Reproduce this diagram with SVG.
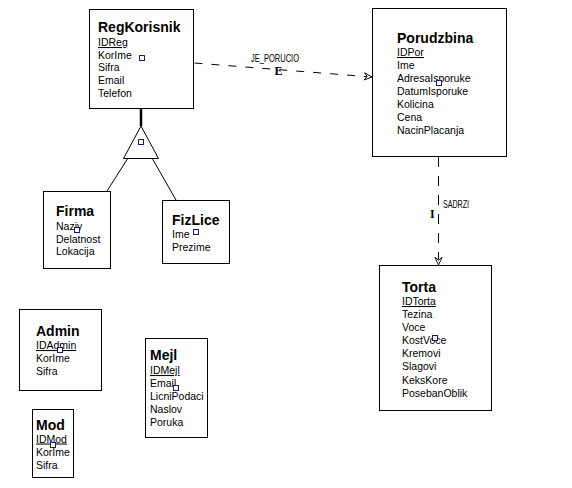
<svg xmlns="http://www.w3.org/2000/svg" width="572" height="488" viewBox="0 0 572 488">
<defs>
<style>
.box{fill:#fff;stroke:#000;stroke-width:1}
.t{font-family:"Liberation Sans",Arial,sans-serif;font-size:14px;font-weight:bold;fill:#000}
.a{font-family:"Liberation Sans",Arial,sans-serif;font-size:10.5px;fill:#000}
.u{text-decoration:underline}
.sq{fill:#fff;stroke:#1a1a70;stroke-width:1}
.dash{fill:none;stroke:#000;stroke-width:1}
.lbl{font-family:"Liberation Sans",Arial,sans-serif;font-size:10.5px;fill:#000}
.sym{font-family:"Liberation Serif","Times New Roman",serif;font-size:12px;font-weight:bold;fill:#000}
.ln{fill:none;stroke:#000;stroke-width:1}
</style>
<marker id="open" viewBox="0 0 10 10" refX="9.5" refY="5" markerWidth="9" markerHeight="9" markerUnits="userSpaceOnUse" orient="auto">
<path d="M1,1 L9.5,5 L1,9 L4,5 Z" fill="#fff" stroke="#000" stroke-width="1"/>
</marker>
</defs>
<rect width="572" height="488" fill="#fff"/>

<g id="connectors">
<path class="dash" d="M194.5,63 L372,77" stroke-dasharray="8 9" marker-end="url(#open)"/>
<text class="lbl" x="251" y="62" textLength="48" lengthAdjust="spacingAndGlyphs">JE_PORUCIO</text>
<text class="sym" x="274.5" y="74.5">E</text>
<path class="dash" d="M438.5,157 L438.5,265" stroke-dasharray="10 9" marker-end="url(#open)"/>
<text class="sym" x="430" y="217.5">I</text>
<text class="lbl" x="443" y="208" textLength="26" lengthAdjust="spacingAndGlyphs">SADRZI</text>
<path d="M141,109 L141,126" stroke="#000" stroke-width="2.5" fill="none"/>
<path class="ln" d="M128,158 L107,191"/>
<path class="ln" d="M152,158 L176,200"/>
</g>

<g id="isa">
<path d="M141,126 L123.5,158.5 L158.5,158.5 Z" fill="#fff" stroke="#000" stroke-width="1"/>
<rect class="sq" x="138.5" y="139.5" width="5" height="5"/>
</g>

<g id="RegKorisnik">
<rect class="box" x="89.5" y="9.5" width="104" height="99"/>
<text class="t" x="98" y="32">RegKorisnik</text>
<text class="a u" x="98" y="46">IDReg</text>
<text class="a" x="98" y="58.7">KorIme</text>
<text class="a" x="98" y="71.4">Sifra</text>
<text class="a" x="98" y="84.1">Email</text>
<text class="a" x="98" y="96.8">Telefon</text>
<rect class="sq" x="139.5" y="55.5" width="5" height="5"/>
</g>

<g id="Porudzbina">
<rect class="box" x="372.5" y="8.5" width="134" height="148"/>
<text class="t" x="397" y="43">Porudzbina</text>
<text class="a u" x="397" y="56">IDPor</text>
<text class="a" x="397" y="69">Ime</text>
<text class="a" x="397" y="82">AdresaIsporuke</text>
<text class="a" x="397" y="95">DatumIsporuke</text>
<text class="a" x="397" y="108">Kolicina</text>
<text class="a" x="397" y="121">Cena</text>
<text class="a" x="397" y="134">NacinPlacanja</text>
<rect class="sq" x="436.5" y="80.5" width="5" height="5"/>
</g>

<g id="Torta">
<rect class="box" x="379.5" y="265.5" width="112" height="145"/>
<text class="t" x="402" y="292">Torta</text>
<text class="a u" x="402" y="305">IDTorta</text>
<text class="a" x="402" y="318">Tezina</text>
<text class="a" x="402" y="331">Voce</text>
<text class="a" x="402" y="344">KostVoce</text>
<text class="a" x="402" y="357">Kremovi</text>
<text class="a" x="402" y="370">Slagovi</text>
<text class="a" x="402" y="383.5">KeksKore</text>
<text class="a" x="402" y="396.5">PosebanOblik</text>
<rect class="sq" x="432.5" y="335.5" width="5" height="5"/>
</g>

<g id="Firma">
<rect class="box" x="43.5" y="191.5" width="67" height="77"/>
<text class="t" x="56" y="216">Firma</text>
<text class="a" x="56" y="230">Naziv</text>
<text class="a" x="56" y="242.5">Delatnost</text>
<text class="a" x="56" y="255">Lokacija</text>
<rect class="sq" x="74.5" y="227.5" width="5" height="5"/>
</g>

<g id="FizLice">
<rect class="box" x="162.5" y="200.5" width="67" height="63"/>
<text class="t" x="172" y="225">FizLice</text>
<text class="a" x="172" y="238">Ime</text>
<text class="a" x="172" y="251">Prezime</text>
<rect class="sq" x="193.5" y="229.5" width="5" height="5"/>
</g>

<g id="Admin">
<rect class="box" x="19.5" y="309.5" width="82" height="81"/>
<text class="t" x="36" y="336">Admin</text>
<text class="a u" x="36" y="349">IDAdmin</text>
<text class="a" x="36" y="362">KorIme</text>
<text class="a" x="36" y="375">Sifra</text>
<rect class="sq" x="57.5" y="347.5" width="5" height="5"/>
</g>

<g id="Mod">
<rect class="box" x="32.5" y="409.5" width="41" height="68"/>
<text class="t" x="36" y="430">Mod</text>
<text class="a u" x="36" y="442.5">IDMod</text>
<text class="a" x="36" y="456">KorIme</text>
<text class="a" x="36" y="468.5">Sifra</text>
<rect class="sq" x="50.5" y="442.5" width="5" height="5"/>
</g>

<g id="Mejl">
<rect class="box" x="145.5" y="338.5" width="62" height="99"/>
<text class="t" x="150" y="360">Mejl</text>
<text class="a u" x="150" y="374">IDMejl</text>
<text class="a" x="150" y="387">Email</text>
<text class="a" x="150" y="400">LicniPodaci</text>
<text class="a" x="150" y="413">Naslov</text>
<text class="a" x="150" y="426">Poruka</text>
<rect class="sq" x="173.5" y="385.5" width="5" height="5"/>
</g>
</svg>
